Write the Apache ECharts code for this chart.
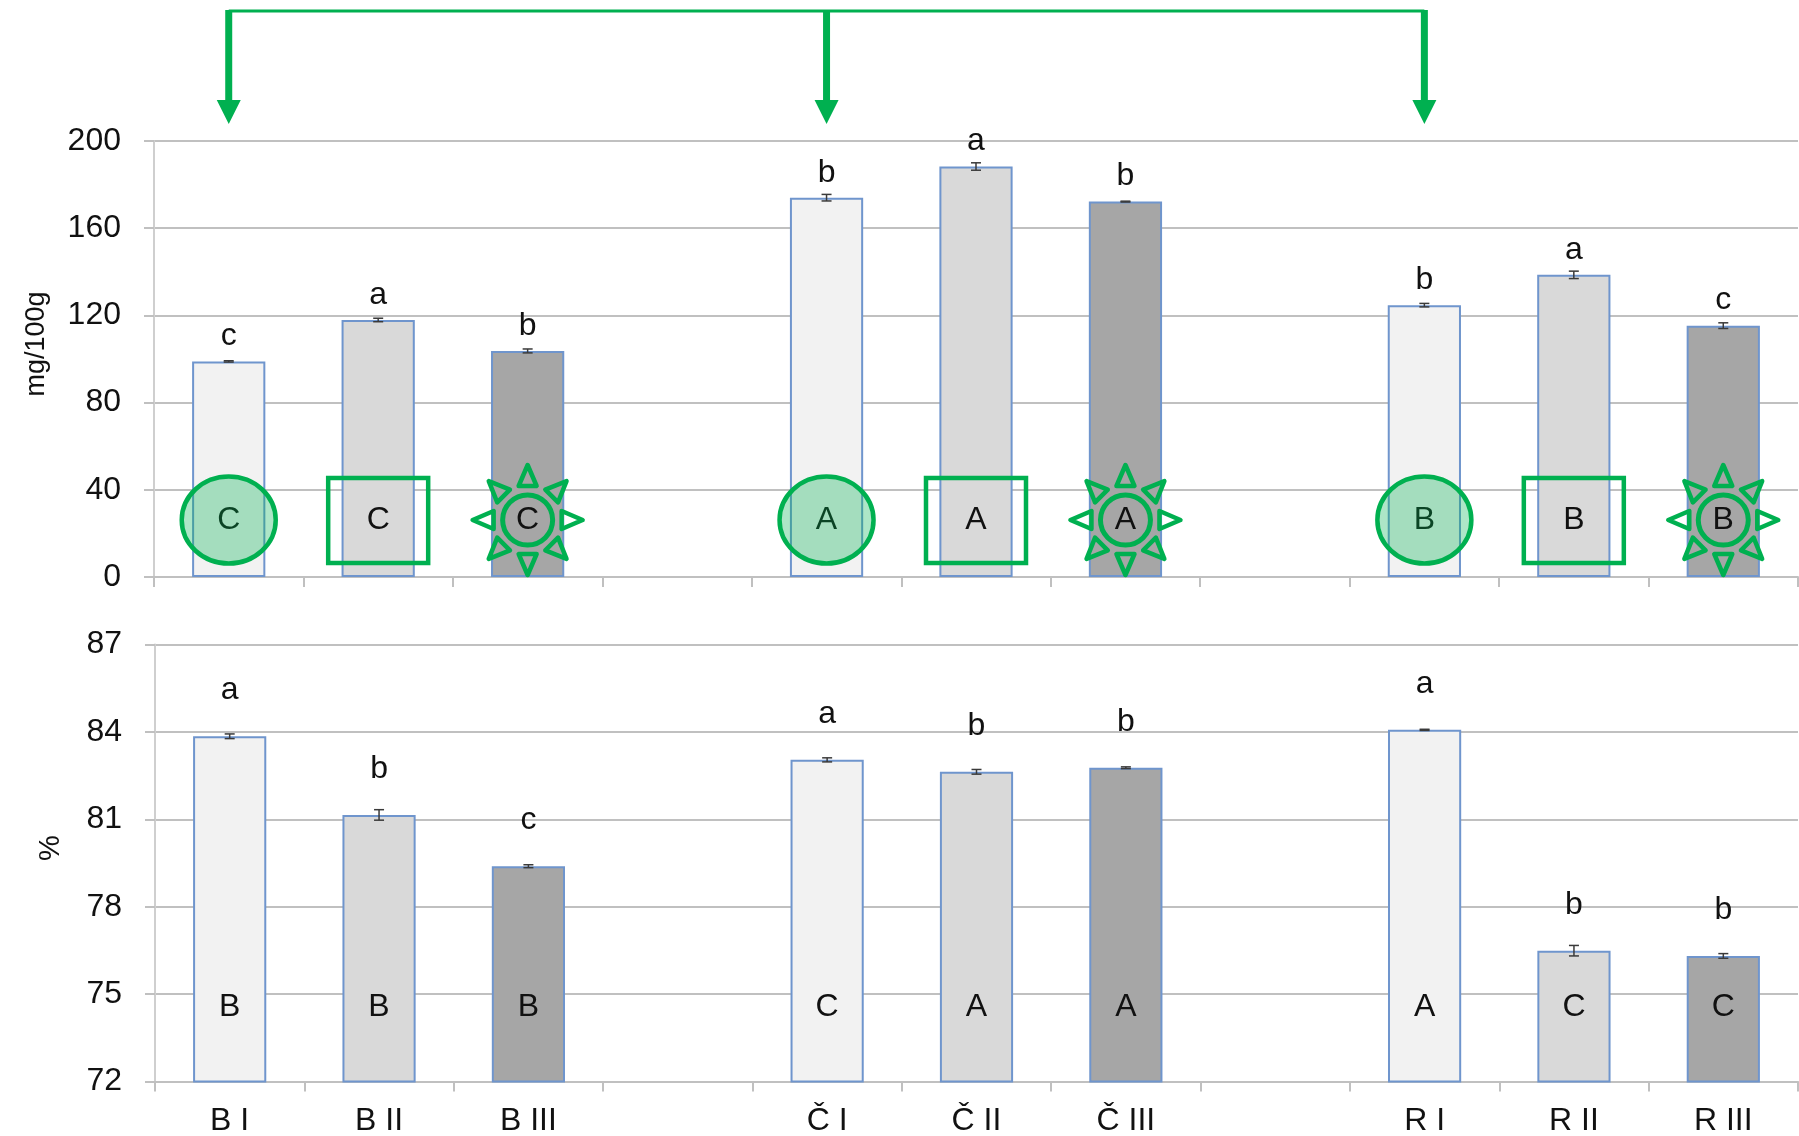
<!DOCTYPE html>
<html>
<head>
<meta charset="utf-8">
<script src="https://cdn.jsdelivr.net/npm/echarts@6/dist/echarts.min.js"></script>
<style>
  html, body { margin: 0; padding: 0; background: #ffffff; }
  #chart { width: 1799px; height: 1136px; }
</style>
</head>
<body>
<div id="chart"></div>
<script>
// Categories: three cultivars (B, Č, R) x three stages (I, II, III), blank slots separate the groups
const categories = ['B I', 'B II', 'B III', '', 'Č I', 'Č II', 'Č III', '', 'R I', 'R II', 'R III'];

// Upper panel (mg/100g): means, error bar half-lengths, letters above and inside the bars
const mgValues = [98.9, 117.9, 103.7, null, 174.0, 188.3, 172.2, null, 124.7, 138.6, 115.3];
const mgErrors = [0.3, 0.8, 0.9, null, 1.5, 1.7, 0.2, null, 0.8, 1.7, 1.3];
const mgLower = ['c', 'a', 'b', '', 'b', 'a', 'b', '', 'b', 'a', 'c'];
const mgUpper = ['C', 'C', 'C', '', 'A', 'A', 'A', '', 'B', 'B', 'B'];
const mgTicks = [0, 40, 80, 120, 160, 200];

// Lower panel (%): means, error bar half-lengths, letters above and inside the bars
const pctValues = [83.85, 81.15, 79.39, null, 83.04, 82.63, 82.77, null, 84.07, 76.49, 76.31];
const pctErrors = [0.08, 0.18, 0.05, null, 0.07, 0.08, 0.03, null, 0.02, 0.18, 0.08];
const pctLower = ['a', 'b', 'c', '', 'a', 'b', 'b', '', 'a', 'b', 'b'];
const pctUpper = ['B', 'B', 'B', '', 'C', 'A', 'A', '', 'A', 'C', 'C'];
const pctTicks = [72, 75, 78, 81, 84, 87];

const FONT = '"Liberation Sans", Arial, Helvetica, sans-serif';
const FILLS = ['#f2f2f2', '#d9d9d9', '#a6a6a6'];   // stage I, II, III
const GREEN = '#00b050';
const GRID_COLOR = '#c0c0c0';

const chart = echarts.init(document.getElementById('chart'), null, { renderer: 'canvas' });

function barSeries(values, idx) {
  return {
    type: 'bar',
    xAxisIndex: idx,
    yAxisIndex: idx,
    barWidth: '49%',
    animation: false,
    data: values.map((v, i) => v == null ? '-' : {
      value: v,
      itemStyle: { color: FILLS[i % 4], borderColor: '#6f95cd', borderWidth: 2 }
    })
  };
}

// Sun-like marker: ring with eight outlined rays
function sunShapes(cx, cy) {
  const out = [{
    type: 'circle',
    shape: { cx, cy, r: 25 },
    style: { fill: 'none', stroke: GREEN, lineWidth: 5 }
  }];
  for (let k = 0; k < 8; k++) {
    const a = k * Math.PI / 4;
    const c = Math.cos(a), s = Math.sin(a);
    const rb = 34, rt = 55, hw = 9;
    out.push({
      type: 'polygon',
      shape: {
        points: [
          [cx + rt * c, cy + rt * s],
          [cx + rb * c - hw * s, cy + rb * s + hw * c],
          [cx + rb * c + hw * s, cy + rb * s - hw * c]
        ]
      },
      style: { fill: 'none', stroke: GREEN, lineWidth: 4.5, lineJoin: 'round' }
    });
  }
  return out;
}

function markShapes(stage, cx, cy) {
  if (stage === 0) {
    return [{
      type: 'ellipse',
      shape: { cx, cy, rx: 47, ry: 43.5 },
      style: { fill: 'rgba(0,176,80,0.32)', stroke: GREEN, lineWidth: 4.5 }
    }];
  }
  if (stage === 1) {
    return [{
      type: 'rect',
      shape: { x: cx - 50, y: cy - 42, width: 100, height: 85 },
      style: { fill: 'none', stroke: GREEN, lineWidth: 4.5 }
    }];
  }
  return sunShapes(cx, cy);
}

// Error bars, significance letters and (optionally) green markers drawn on top of the bars
function overlaySeries(values, errors, lower, upper, idx, base, letterGap, innerLift, withMarks) {
  return {
    type: 'custom',
    xAxisIndex: idx,
    yAxisIndex: idx,
    animation: false,
    silent: true,
    z: 5,
    data: values.map((v, i) => v == null ? null : [i, v, errors[i]]).filter(d => d),
    renderItem(params, api) {
      const i = api.value(0), v = api.value(1), e = api.value(2);
      const top = api.coord([i, v]);
      const hi = api.coord([i, v + e]);
      const lo = api.coord([i, v - e]);
      const bottom = api.coord([i, base]);
      const x = top[0];
      const ebStyle = { stroke: '#3a3a3a', lineWidth: 1.5 };
      const children = [
        { type: 'line', shape: { x1: x, y1: hi[1], x2: x, y2: lo[1] }, style: ebStyle },
        { type: 'line', shape: { x1: x - 5, y1: hi[1], x2: x + 5, y2: hi[1] }, style: ebStyle },
        { type: 'line', shape: { x1: x - 5, y1: lo[1], x2: x + 5, y2: lo[1] }, style: ebStyle },
        {
          type: 'text',
          style: {
            text: lower[i], x, y: top[1] - letterGap,
            align: 'center', verticalAlign: 'middle',
            fontSize: 32, fontFamily: FONT, fill: '#111111'
          }
        }
      ];
      const cy = bottom[1] - innerLift;
      children.push({
        type: 'text',
        style: {
          text: upper[i], x, y: cy,
          align: 'center', verticalAlign: 'middle',
          fontSize: 32, fontFamily: FONT, fill: '#111111'
        }
      });
      if (withMarks) {
        children.push(...markShapes(i % 4, x, cy));
      }
      return { type: 'group', children };
    }
  };
}

function xAxis(idx, showLabels) {
  return {
    type: 'category',
    gridIndex: idx,
    data: categories,
    axisLine: { show: true, lineStyle: { color: GRID_COLOR, width: 2 } },
    axisTick: { show: true, length: 10, lineStyle: { color: GRID_COLOR, width: 2 } },
    axisLabel: {
      show: showLabels, interval: 0, margin: 24,
      fontSize: 32, fontFamily: FONT, color: '#111111'
    },
    splitLine: { show: false }
  };
}

function yAxis(idx, ticks, name, nameGap, nameSize) {
  return {
    type: 'value',
    gridIndex: idx,
    min: ticks[0],
    max: ticks[ticks.length - 1],
    interval: ticks[1] - ticks[0],
    name,
    nameLocation: 'middle',
    nameRotate: 90,
    nameGap,
    nameTextStyle: { fontSize: nameSize, fontFamily: FONT, color: '#111111', padding: [0, 0, 0, 30] },
    axisLine: { show: true, lineStyle: { color: '#cfcfcf', width: 2 } },
    axisTick: { show: true, length: 10, lineStyle: { color: GRID_COLOR, width: 2 } },
    axisLabel: { margin: 33, fontSize: 32, fontFamily: FONT, color: '#111111' },
    splitLine: { show: true, lineStyle: { color: GRID_COLOR, width: 2 } }
  };
}

chart.setOption({
  animation: false,
  backgroundColor: '#ffffff',
  grid: [
    { left: 154, right: 1, top: 141, height: 436, containLabel: false, outerBoundsMode: 'none' },
    { left: 155, right: 1, top: 644.5, height: 437, containLabel: false, outerBoundsMode: 'none' }
  ],
  xAxis: [xAxis(0, false), xAxis(1, true)],
  yAxis: [yAxis(0, mgTicks, 'mg/100g', 104, 27), yAxis(1, pctTicks, '%', 90, 29)],
  series: [
    barSeries(mgValues, 0),
    barSeries(pctValues, 1),
    overlaySeries(mgValues, mgErrors, mgLower, mgUpper, 0, mgTicks[0], 25, 57, true),
    overlaySeries(pctValues, pctErrors, pctLower, pctUpper, 1, pctTicks[0], 46, 74, false)
  ]
});

// Green connector with arrows pointing at the stage-I bar of each cultivar
const arrowX = categories
  .map((c, i) => (c && i % 4 === 0) ? chart.convertToPixel({ gridIndex: 0 }, [i, 0])[0] : null)
  .filter(x => x != null);
const arrowGraphics = [{
  type: 'line',
  shape: { x1: arrowX[0], y1: 11, x2: arrowX[arrowX.length - 1], y2: 11 },
  style: { stroke: GREEN, lineWidth: 3 }
}];
arrowX.forEach(x => {
  arrowGraphics.push({
    type: 'rect',
    shape: { x: x - 3.5, y: 10, width: 7, height: 91 },
    style: { fill: GREEN }
  });
  arrowGraphics.push({
    type: 'polygon',
    shape: { points: [[x - 12, 100], [x + 12, 100], [x, 124]] },
    style: { fill: GREEN }
  });
});
chart.setOption({ graphic: arrowGraphics });
</script>
</body>
</html>
